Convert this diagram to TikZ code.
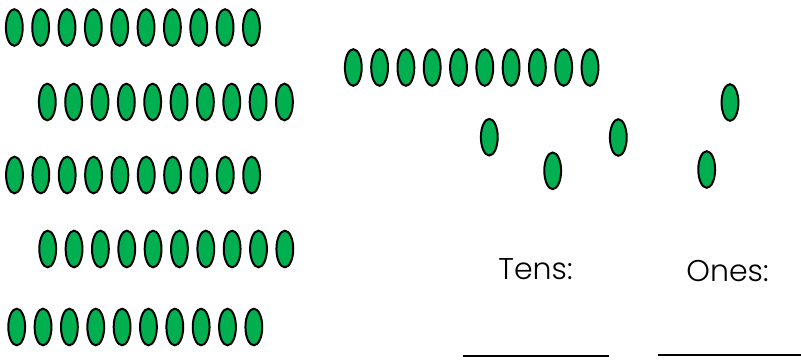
\documentclass[tikz,border=0pt]{standalone}
\usepackage{fontspec}
\setmainfont{Poppins Light}
\definecolor{beadgreen}{RGB}{0,176,80}
\begin{document}
\begin{tikzpicture}[x=1pt,y=-1pt,
  beadst/.style={draw=black, fill=beadgreen, line width=2pt},
  labelst/.style={font=\fontsize{30}{36}\selectfont, anchor=base, inner sep=0pt},
  blankst/.style={line width=2pt}]
\useasboundingbox (0,0) rectangle (801,362);
% left rows
\foreach \y/\xo in {27.5/14.3, 102/47.3, 175/14.5, 249/47.7, 327/16.7} {
  \foreach \i in {0,...,9} \draw[beadst] (\xo+26.35*\i,\y) ellipse (8.4pt and 18.3pt);
}
% middle ten
\foreach \i in {0,...,9} \draw[beadst] (353.3+26.3*\i,67.5) ellipse (8.4pt and 18.3pt);
% singles
\draw[beadst] (489.3,137.2) ellipse (8.4pt and 18.3pt);
\draw[beadst] (552.7,170.8) ellipse (8.4pt and 18.3pt);
\draw[beadst] (618.3,137.5) ellipse (8.4pt and 18.3pt);
\draw[beadst] (730,102.5) ellipse (8.4pt and 18.3pt);
\draw[beadst] (706.7,169.5) ellipse (8.4pt and 18.3pt);
% labels
\node[labelst] (tens) at (535.5,279) {Tens:};
\node[labelst] (ones) at (727.5,281.5) {Ones:};
% blanks
\coordinate (t1) at (463,356);
\coordinate (t2) at (609,356);
\coordinate (o1) at (658,355);
\coordinate (o2) at (801,355);
\draw[blankst] (t1) -- (t2);
\draw[blankst] (o1) -- (o2);
\end{tikzpicture}
\end{document}
